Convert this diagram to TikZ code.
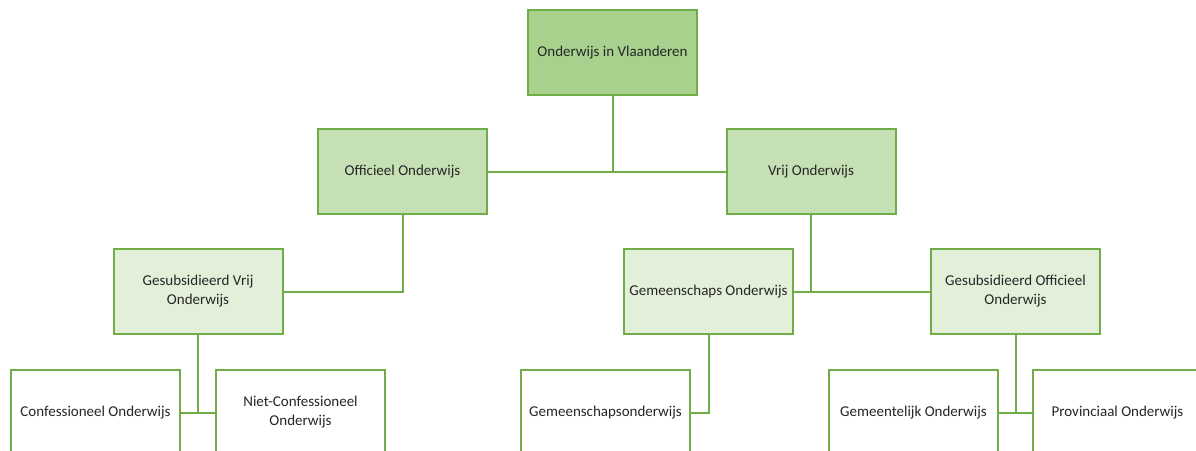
\documentclass[tikz,border=0pt]{standalone}
\usepackage{fontspec}
\setmainfont{Carlito}
\begin{document}
\begin{tikzpicture}[x=1pt,y=-1pt,
  box/.style={draw=edgegreen,line width=2pt,minimum width=169pt,minimum height=85pt,
    align=center,font=\fontsize{15}{19}\selectfont,text=black!85,inner sep=2pt},
  lvlA/.style={box,fill=fillA},
  lvlB/.style={box,fill=fillB},
  lvlC/.style={box,fill=fillC},
  lvlD/.style={box,fill=white},
  link/.style={draw=edgegreen,line width=2pt}]
\definecolor{edgegreen}{HTML}{70AD47}
\definecolor{fillA}{HTML}{A9D18E}
\definecolor{fillB}{HTML}{C5E0B4}
\definecolor{fillC}{HTML}{E2F0D9}
\useasboundingbox (0,0) rectangle (1196,450);
\begin{scope}
\clip (0,0) rectangle (1196,450);
% root
\node[lvlA] (root) at (612.5,52.5) {Onderwijs in Vlaanderen};
% second level
\node[lvlB] (off) at (402.5,171.5) {Officieel Onderwijs};
\node[lvlB] (vrij) at (811,171.5) {Vrij Onderwijs};
% third level
\node[lvlC] (gvo) at (198,291.5) {Gesubsidieerd Vrij\\Onderwijs};
\node[lvlC] (gem) at (708.5,291.5) {Gemeenschaps Onderwijs};
\node[lvlC] (goo) at (1015.5,291.5) {Gesubsidieerd Officieel\\Onderwijs};
% fourth level
\node[lvlD] (conf) at (95.5,412.5) {Confessioneel Onderwijs};
\node[lvlD] (niet) at (300.5,412.5) {Niet-Confessioneel\\Onderwijs};
\node[lvlD] (gmo) at (605.5,412.5) {Gemeenschapsonderwijs};
\node[lvlD] (gml) at (913.5,412.5) {Gemeentelijk Onderwijs};
\node[lvlD] (prov) at (1117.5,412.5) {Provinciaal Onderwijs};
% connectors
\coordinate (j1) at (root.south |- off.east);
\path[link] (root.south) -- (j1);
\path[link] (off.east) -- (vrij.west);
\path[link] (off.south) |- (gvo.east);
\coordinate (j2) at (vrij.south |- gem.east);
\path[link] (vrij.south) -- (j2);
\path[link] (gem.east) -- (goo.west);
\coordinate (j3) at (gvo.south |- conf.east);
\path[link] (gvo.south) -- (j3);
\path[link] (conf.east) -- (niet.west);
\path[link] (gem.south) |- (gmo.east);
\coordinate (j4) at (goo.south |- gml.east);
\path[link] (goo.south) -- (j4);
\path[link] (gml.east) -- (prov.west);
\end{scope}
\end{tikzpicture}
\end{document}
